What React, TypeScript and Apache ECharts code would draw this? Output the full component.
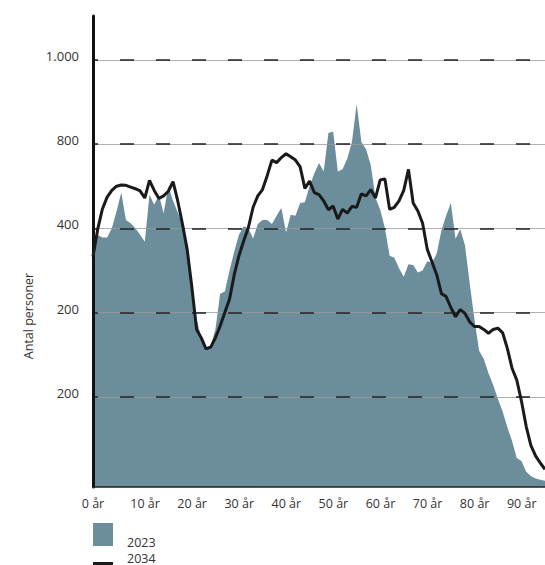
import React, { useEffect, useRef } from "react";
import * as echarts from "echarts";

const ages: number[] = Array.from({ length: 97 }, (_, i) => i);

const pop2023: number[] = [
  575, 584, 578, 578, 600, 640, 685, 620, 612, 600,
  585, 568, 680, 656, 679, 636, 700, 665, 638, 608,
  550, 470, 385, 340, 318, 322, 360, 445, 450, 500,
  545, 585, 605, 600, 576, 610, 620, 620, 610, 630,
  648, 590, 632, 630, 660, 662, 700, 730, 755, 735,
  826, 830, 735, 740, 765, 805, 895, 805, 788, 750,
  672, 644, 600, 535, 530, 505, 485, 515, 513, 495,
  500, 522, 518, 540, 595, 630, 660, 575, 598, 560,
  470, 385, 310, 290, 256, 228, 195, 165, 128, 95,
  55, 48, 22, 12, 6, 3, 1,
];

const pop2034: number[] = [
  533, 598, 646, 674, 690, 700, 703, 702, 698, 694,
  689, 672, 714, 690, 671, 677, 688, 711, 665, 610,
  550, 460, 360, 340, 314, 318, 340, 368, 400, 432,
  490, 535, 570, 602, 650, 677, 692, 725, 762, 756,
  768, 777, 770, 762, 746, 695, 712, 685, 680, 665,
  644, 653, 622, 645, 636, 652, 650, 682, 677, 692,
  672, 715, 717, 645, 650, 665, 690, 740, 660, 641,
  612, 550, 520, 490, 445, 438, 412, 390, 407, 398,
  378, 367, 367, 360, 351, 360, 363, 352, 315, 268,
  240, 190, 130, 85, 60, 43, 28,
];

const yTickValues: number[] = [200, 400, 600, 800, 1000];
const yTickLabels: string[] = ["200", "200", "400", "800", "1.000"];
const seriesNames: string[] = ["2023", "2034"];

const AREA_COLOR = "#6b8d9c";
const FONT = "'Open Sans', 'Liberation Sans', sans-serif";

export default function App() {
  const ref = useRef<HTMLDivElement>(null);

  useEffect(() => {
    if (!ref.current) return;
    const chart = echarts.init(ref.current, undefined, { renderer: "svg" });
    const gridData = yTickValues.map((v) => ({ yAxis: v }));
    chart.setOption({
      animation: false,
      backgroundColor: "#ffffff",
      textStyle: { fontFamily: FONT },
      grid: { left: 93, right: 0, top: 16, bottom: 78, containLabel: false },
      xAxis: {
        type: "category",
        data: ages,
        boundaryGap: false,
        z: 5,
        axisLine: { onZero: false, lineStyle: { color: "#222", width: 1.5 } },
        axisTick: { show: false },
        splitLine: { show: false },
        axisLabel: {
          interval: 9,
          margin: 10,
          color: "#333",
          fontSize: 12.5,
          fontFamily: FONT,
          formatter: (v: string, i: number) =>
            i === 0 ? `{a|${v} år}` : `{b|${v} år}`,
          rich: {
            a: { fontSize: 12.5, color: "#333", fontFamily: FONT },
            b: { fontSize: 12.5, color: "#333", fontFamily: FONT, padding: [0, 0, 0, 10] },
          },
        },
      },
      yAxis: {
        type: "value",
        min: -14,
        max: 1104,
        z: 5,
        axisLine: { show: true, lineStyle: { color: "#111", width: 3 } },
        axisTick: { show: false },
        splitLine: { show: false },
        axisLabel: {
          customValues: yTickValues,
          margin: 14,
          color: "#333",
          fontSize: 13,
          fontFamily: FONT,
          formatter: (v: number) => {
            const idx = yTickValues.indexOf(v);
            return idx >= 0 ? `{t|${yTickLabels[idx]}}` : "";
          },
          rich: {
            t: { fontSize: 13, color: "#333", fontFamily: FONT, padding: [0, 0, 8, 0] },
          },
        },
      },
      series: [
        {
          name: seriesNames[0],
          type: "line",
          data: pop2023,
          symbol: "none",
          lineStyle: { width: 0 },
          areaStyle: { color: AREA_COLOR, opacity: 1, origin: "start" },
          z: 2,
          markLine: {
            silent: true,
            symbol: ["none", "none"],
            label: { show: false },
            lineStyle: { color: "#9a9a9a", width: 0.8, type: "solid" },
            data: gridData,
          },
        },
        {
          name: seriesNames[1],
          type: "line",
          data: pop2034,
          symbol: "none",
          z: 10,
          lineStyle: { color: "#1a1a1a", width: 3 },
          markLine: {
            silent: true,
            symbol: ["none", "none"],
            label: { show: false },
            lineStyle: { color: "#222", width: 1.5, type: [14, 22], dashOffset: 9 },
            data: gridData,
          },
        },
      ],
      graphic: [
        {
          type: "text",
          x: 28,
          y: 316,
          rotation: Math.PI / 2,
          style: {
            text: "Antal personer",
            fill: "#333",
            fontSize: 12.5,
            fontFamily: FONT,
            align: "center",
            verticalAlign: "middle",
          },
        },
        {
          type: "rect",
          shape: { x: 93, y: 523, width: 20, height: 23 },
          style: { fill: AREA_COLOR },
        },
        {
          type: "text",
          x: 127,
          y: 542,
          style: {
            text: seriesNames[0],
            fill: "#333",
            fontSize: 12.5,
            fontFamily: FONT,
            verticalAlign: "middle",
          },
        },
        {
          type: "rect",
          shape: { x: 93, y: 562, width: 20, height: 5 },
          style: { fill: "#1a1a1a" },
        },
        {
          type: "text",
          x: 127,
          y: 558,
          style: {
            text: seriesNames[1],
            fill: "#333",
            fontSize: 12.5,
            fontFamily: FONT,
            verticalAlign: "middle",
          },
        },
      ],
    });
    return () => chart.dispose();
  }, []);

  return (
    <div
      ref={ref}
      style={{ width: 545, height: 565, position: "absolute", left: 0, top: 0 }}
    />
  );
}
